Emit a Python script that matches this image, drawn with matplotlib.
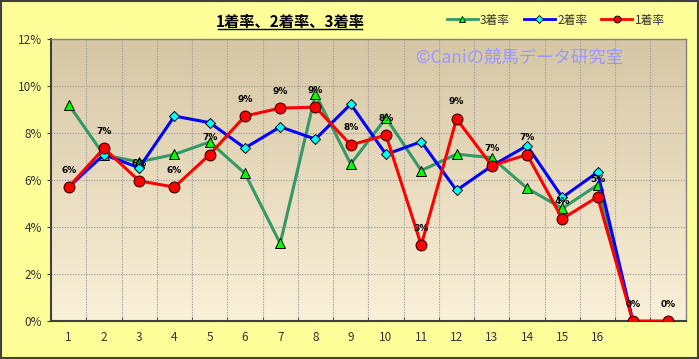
import matplotlib
matplotlib.use("Agg")
import matplotlib.pyplot as plt
import numpy as np
from matplotlib.lines import Line2D
from matplotlib.patches import Rectangle
from matplotlib.colors import LinearSegmentedColormap

plt.rcParams['font.family'] = ['Noto Sans CJK JP', 'DejaVu Sans']

categories = ["1", "2", "3", "4", "5", "6", "7", "8", "9", "10", "11", "12", "13", "14", "15", "16", "", ""]
rate1 = [5.70, 7.35, 5.96, 5.70, 7.08, 8.72, 9.06, 9.10, 7.49, 7.91, 3.23, 8.60, 6.61, 7.08, 4.35, 5.28, 0.0, 0.0]
rate2 = [5.70, 7.08, 6.52, 8.72, 8.44, 7.36, 8.26, 7.74, 9.23, 7.09, 7.63, 5.56, 6.60, 7.46, 5.26, 6.33, 0.0]
rate3 = [9.21, 7.06, 6.77, 7.09, 7.62, 6.28, 3.30, 9.65, 6.68, 8.64, 6.40, 7.10, 6.95, 5.65, 4.79, 5.79, 0.0]
labels1 = ["6%", "7%", "6%", "6%", "7%", "9%", "9%", "9%", "8%", "8%", "3%", "9%", "7%", "7%", "4%", "5%", "0%", "0%"]
yticks = [0, 2, 4, 6, 8, 10, 12]
title = "1着率、2着率、3着率"
watermark = "©Caniの競馬データ研究室"

fig = plt.figure(figsize=(6.99, 3.59), dpi=100)
fig.patch.set_facecolor("#FFFF99")
fig.patches.append(Rectangle((0.001, 0.002), 0.997, 0.995, transform=fig.transFigure,
                             fill=False, edgecolor="#404040", linewidth=1.5, zorder=10))

ax = fig.add_axes([0.073, 0.1058, 0.908, 0.7856])
n = len(categories)
x = np.arange(n)
ax.set_xlim(-0.5, n - 0.5)
ax.set_ylim(0, 12)

# gradient background
cmap = LinearSegmentedColormap.from_list("bg", ["#FBF0D8", "#D5C6A4"])
grad = np.linspace(0, 1, 256).reshape(-1, 1)
ax.imshow(grad, extent=[-0.5, n - 0.5, 0, 12], origin="lower", aspect="auto", cmap=cmap, zorder=0)

# grid
gcol = "#a0a0a0"
for b in np.arange(-0.5, n - 0.5, 1)[1:]:
    ax.axvline(b, color=gcol, linestyle=(0, (1.2, 1.2)), linewidth=0.8, zorder=1)
for yv in yticks[1:-1]:
    ax.axhline(yv, color=gcol, linestyle=(0, (1.2, 1.2)), linewidth=0.8, zorder=1)

lw = 2.2
ax.plot(x[:len(rate3)], rate3, color="#339966", linewidth=lw, marker="^", markersize=7.5,
        markerfacecolor="#00FF00", markeredgecolor="black", markeredgewidth=0.7, zorder=3)
ax.plot(x[:len(rate2)], rate2, color="#0000FF", linewidth=lw, marker="D", markersize=5.5,
        markerfacecolor="#00FFFF", markeredgecolor="black", markeredgewidth=0.7, zorder=4)
ax.plot(x, rate1, color="#FF0000", linewidth=lw, marker="o", markersize=7.8,
        markerfacecolor="#FF0000", markeredgecolor="#400000", markeredgewidth=0.8, zorder=5)

for xi, yi, lab in zip(x, rate1, labels1):
    ax.annotate(lab, (xi, yi), xytext=(0, 9), textcoords="offset points", ha="center", va="bottom",
                fontsize=6.5, fontweight="bold", color="black", family="DejaVu Sans", zorder=6)

ax.set_yticks(yticks)
ax.set_yticklabels([f"{v}%" for v in yticks])
ax.set_xticks(x)
ax.set_xticklabels(categories)
ax.set_xticks(np.arange(-0.5, n, 1), minor=True)
ax.tick_params(axis="x", which="major", length=0, labelsize=8.5, labelcolor="#333333", pad=7)
ax.tick_params(axis="x", which="minor", length=3, direction="in", color="#404040")
ax.tick_params(axis="y", length=3, direction="out", labelsize=8.5, labelcolor="#333333", color="#404040")

for s in ["left", "bottom"]:
    ax.spines[s].set_color("#404040")
    ax.spines[s].set_linewidth(1.5)
for s in ["right", "top"]:
    ax.spines[s].set_color("#808080")
    ax.spines[s].set_linewidth(1.0)

ax.text(0.575, 0.933, watermark, transform=ax.transAxes, ha="left", va="center", fontsize=12.5,
        color="#9999FF", zorder=2, family=['Noto Sans CJK JP', 'DejaVu Sans'])

fig.text(0.415, 0.94, title, ha="center", va="center", fontsize=11, fontweight="bold")
fig.add_artist(Line2D([0.312, 0.518], [0.918, 0.918], transform=fig.transFigure, color="black", linewidth=1))

handles = [
    Line2D([], [], color="#339966", linewidth=2, marker="^", markersize=5, markerfacecolor="#00FF00",
           markeredgecolor="black", markeredgewidth=0.6),
    Line2D([], [], color="#0000FF", linewidth=2, marker="D", markersize=4, markerfacecolor="#00FFFF",
           markeredgecolor="black", markeredgewidth=0.6),
    Line2D([], [], color="#FF0000", linewidth=2, marker="o", markersize=5, markerfacecolor="#FF0000",
           markeredgecolor="black", markeredgewidth=0.6),
]
fig.legend(handles, ["3着率", "2着率", "1着率"], loc="center", bbox_to_anchor=(0.795, 0.944), ncol=3,
           frameon=False, fontsize=8.5, handlelength=2.6, columnspacing=1.2, handletextpad=0.2,
           labelcolor="#333333")

fig.savefig("out.png", dpi=100, facecolor=fig.get_facecolor())
